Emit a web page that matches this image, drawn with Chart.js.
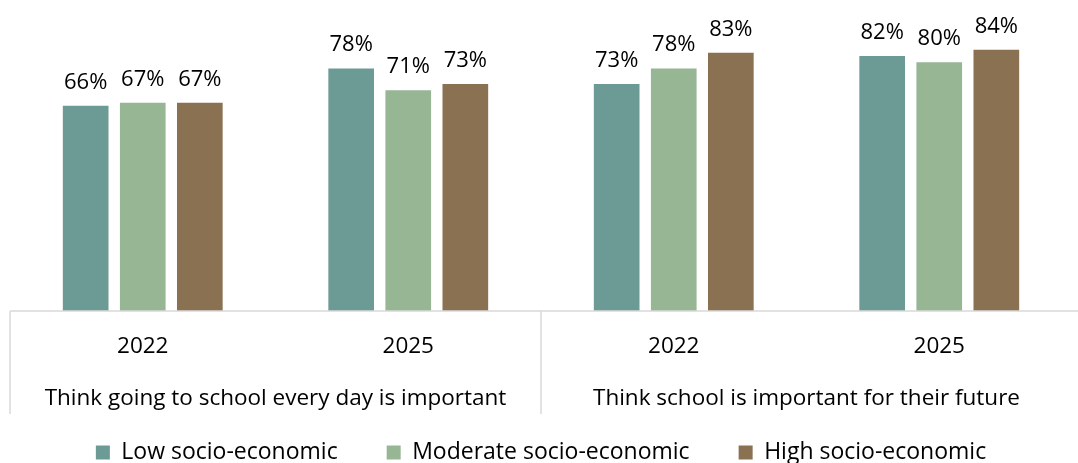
<!DOCTYPE html>
<html>
<head>
<meta charset="utf-8">
<script src="https://cdn.jsdelivr.net/npm/chart.js@4"></script>
<style>
  html, body { margin: 0; padding: 0; background: #fff; }
  #wrap { width: 1078px; height: 463px; position: relative; }
</style>
</head>
<body>
<div id="wrap"><canvas id="schoolChart"></canvas></div>
<script>
const years = ['2022', '2025', '2022', '2025'];
const questions = ['Think going to school every day is important', 'Think school is important for their future'];
const lowSES = [66, 78, 73, 82];
const moderateSES = [67, 71, 78, 80];
const highSES = [67, 73, 83, 84];

const FONT = "'Open Sans', sans-serif";
const RULE = '#d9d9d9';

// percentage above each bar
const valueLabels = {
  id: 'valueLabels',
  afterDatasetsDraw(chart) {
    const ctx = chart.ctx;
    ctx.save();
    ctx.font = '22px ' + FONT;
    ctx.fillStyle = '#000';
    ctx.textAlign = 'center';
    ctx.textBaseline = 'alphabetic';
    chart.data.datasets.forEach((ds, i) => {
      chart.getDatasetMeta(i).data.forEach((bar, j) => {
        ctx.fillText(ds.data[j] + '%', bar.x, bar.y - 17);
      });
    });
    ctx.restore();
  }
};

// axis line, group dividers and the question labels under the years
const groupAxis = {
  id: 'groupAxis',
  afterDraw(chart) {
    const ctx = chart.ctx;
    const x = chart.scales.x;
    const bottom = chart.chartArea.bottom;
    const step = x.getPixelForValue(1) - x.getPixelForValue(0);
    const edges = [
      x.getPixelForValue(0) - step / 2,
      (x.getPixelForValue(1) + x.getPixelForValue(2)) / 2
    ];
    ctx.save();
    ctx.strokeStyle = RULE;
    ctx.lineWidth = 1.5;
    ctx.beginPath();
    ctx.moveTo(edges[0], bottom);
    ctx.lineTo(chart.width, bottom);
    edges.forEach(e => {
      ctx.moveTo(e, bottom);
      ctx.lineTo(e, bottom + 103);
    });
    ctx.stroke();

    ctx.font = '22.5px ' + FONT;
    ctx.fillStyle = '#000';
    ctx.textAlign = 'center';
    ctx.textBaseline = 'alphabetic';
    questions.forEach((q, k) => {
      const cx = (x.getPixelForValue(2 * k) + x.getPixelForValue(2 * k + 1)) / 2;
      ctx.fillText(q, cx, bottom + 94);
    });
    ctx.restore();
  }
};

new Chart(document.getElementById('schoolChart'), {
  type: 'bar',
  data: {
    labels: years,
    datasets: [
      { label: 'Low socio-economic', data: lowSES, backgroundColor: '#6c9a94' },
      { label: 'Moderate socio-economic', data: moderateSES, backgroundColor: '#96b694' },
      { label: 'High socio-economic', data: highSES, backgroundColor: '#897152' }
    ]
  },
  options: {
    responsive: true,
    maintainAspectRatio: false,
    animation: false,
    layout: { padding: { left: 10, right: 6, top: 0, bottom: -11 } },
    datasets: {
      bar: { categoryPercentage: 0.645, barPercentage: 0.8 }
    },
    scales: {
      x: {
        grid: { display: false, drawTicks: false },
        border: { display: false },
        ticks: { color: '#000', font: { family: FONT, size: 22.5 }, padding: 22 },
        afterFit(scale) { scale.height = 81; }
      },
      y: { display: false, min: 0, max: 100 }
    },
    plugins: {
      legend: {
        position: 'bottom',
        labels: {
          boxWidth: 14,
          boxHeight: 14,
          padding: 49,
          color: '#000',
          font: { family: FONT, size: 23 }
        }
      },
      tooltip: { enabled: false }
    }
  },
  plugins: [valueLabels, groupAxis]
});
</script>
</body>
</html>
